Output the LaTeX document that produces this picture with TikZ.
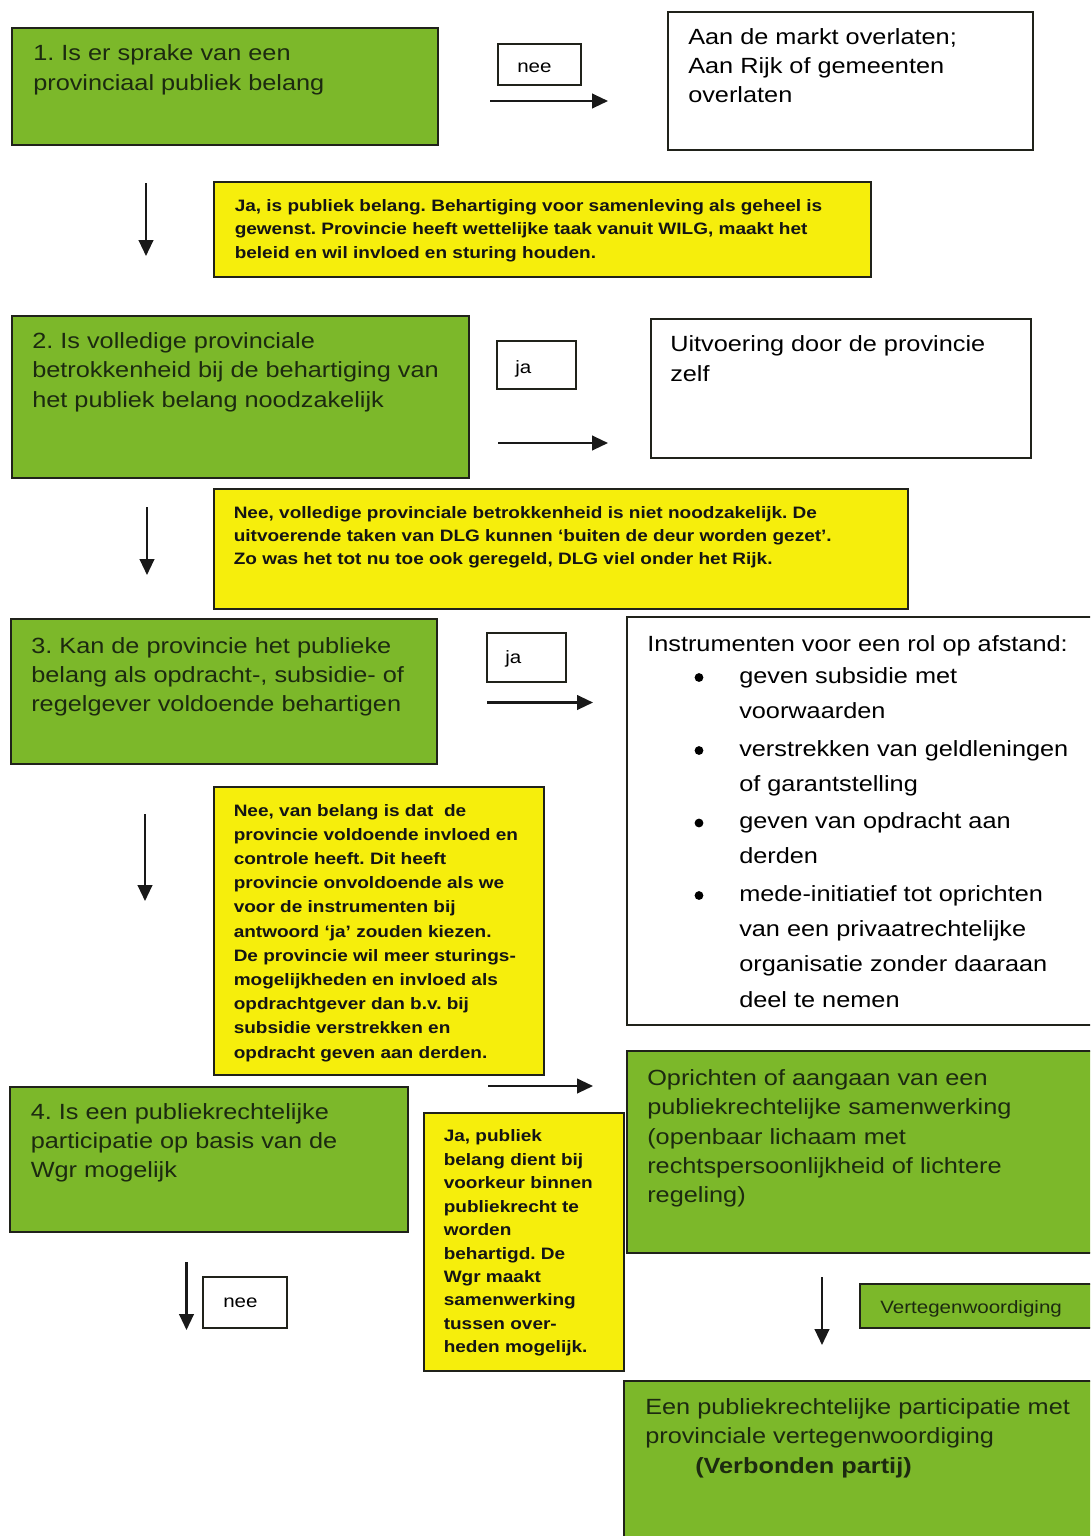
\documentclass[tikz,border=0pt]{standalone}
\usepackage{fontspec}
\setmainfont{Liberation Sans}[FakeStretch=1.15]
\usetikzlibrary{arrows.meta,fit}
\definecolor{boxgreen}{RGB}{124,184,42}
\definecolor{boxyellow}{RGB}{246,238,12}
\definecolor{greentext}{RGB}{28,42,16}
\definecolor{edge}{RGB}{32,34,26}
\frenchspacing
\newcommand\mlines[2]{\vtop{\baselineskip=#1\relax\lineskiplimit=-\maxdimen\halign{##\hfil\cr#2\crcr}}}
\tikzset{
  gbox/.style={draw=edge, line width=1.8pt, fill=boxgreen, inner sep=0pt},
  ybox/.style={draw=edge, line width=1.6pt, fill=boxyellow, inner sep=0pt},
  wbox/.style={draw=edge, line width=1.6pt, fill=white, inner sep=0pt},
  gtext/.style={anchor=base west, inner sep=0pt, text=greentext, font=\fontsize{16.5pt}{22pt}\selectfont},
  ytext/.style={anchor=base west, inner sep=0pt, text=black!92, font=\fontsize{12.4pt}{17.6pt}\selectfont\bfseries},
  wtext/.style={anchor=base west, inner sep=0pt, text=black, font=\fontsize{16.5pt}{22pt}\selectfont},
  lbl/.style={anchor=base west, inner sep=0pt, text=black, font=\fontsize{13.4pt}{16pt}\selectfont},
  arr/.style={line width=1.6pt, draw=black!90, -{Triangle[length=12pt,width=11pt]}},
}
\begin{document}
\begin{tikzpicture}[x=0.75pt,y=-0.75pt]
\useasboundingbox (0,0) rectangle (1090,1536);
\fill[white] (0,0) rectangle (1090,1536);
\clip (0,0) rectangle (1090,1536);

% ---------- row 1
\node[gbox, fit={(12,28) (438,145)}] (b1) {};
\node[gtext] (t1) at (33,60.7) {\mlines{22pt}{1. Is er sprake van een\cr provinciaal publiek belang}};
\node[wbox, fit={(498,44) (581,85)}] (l1) {};
\node[lbl] (tl1) at (517,72.5) {nee};
\coordinate (a1s) at (490,101); \coordinate (a1e) at (608,101);
\draw[arr] (a1s) -- (a1e);
\node[wbox, fit={(668,12) (1033,150)}] (w1) {};
\node[wtext] (tw1) at (688,44.3) {\mlines{22pt}{Aan de markt overlaten;\cr Aan Rijk of gemeenten\cr overlaten}};

\coordinate (d1s) at (146,183); \coordinate (d1e) at (146,256);
\draw[arr] (d1s) -- (d1e);
\node[ybox, fit={(214,182) (871,277)}] (y1) {};
\node[ytext] (ty1) at (234.5,211) {\mlines{17.7pt}{Ja, is publiek belang. Behartiging voor samenleving als geheel is\cr gewenst. Provincie heeft wettelijke taak vanuit WILG, maakt het\cr beleid en wil invloed en sturing houden.}};

% ---------- row 2
\node[gbox, fit={(12,316) (469,478)}] (b2) {};
\node[gtext] (t2) at (32,348.5) {\mlines{22pt}{2. Is volledige provinciale\cr betrokkenheid bij de behartiging van\cr het publiek belang noodzakelijk}};
\node[wbox, fit={(497,341) (576,389)}] (l2) {};
\node[lbl] (tl2) at (515,373) {ja};
\coordinate (a2s) at (498,443); \coordinate (a2e) at (608,443);
\draw[arr] (a2s) -- (a2e);
\node[wbox, fit={(651,319) (1031,458)}] (w2) {};
\node[wtext] (tw2) at (670,351.7) {\mlines{22pt}{Uitvoering door de provincie\cr zelf}};

\coordinate (d2s) at (147,507); \coordinate (d2e) at (147,575);
\draw[arr] (d2s) -- (d2e);
\node[ybox, fit={(214,489) (908,609)}] (y2) {};
\node[ytext] (ty2) at (233.5,518) {\mlines{17.5pt}{Nee, volledige provinciale betrokkenheid is niet noodzakelijk. De\cr uitvoerende taken van DLG kunnen ‘buiten de deur worden gezet’.\cr Zo was het tot nu toe ook geregeld, DLG viel onder het Rijk.}};

% ---------- row 3
\node[gbox, fit={(11,619) (437,764)}] (b3) {};
\node[gtext] (t3) at (31,653) {\mlines{22pt}{3. Kan de provincie het publieke\cr belang als opdracht-, subsidie- of\cr regelgever voldoende behartigen}};
\node[wbox, fit={(487,633) (566,682)}] (l3) {};
\node[lbl] (tl3) at (505,663.5) {ja};
\coordinate (a3s) at (487,702.5); \coordinate (a3e) at (593,702.5);
\draw[arr] (a3s) -- (a3e);
\node[wbox, fit={(627,617) (1100,1025)}] (w3) {};
\node[wtext] (tw3) at (647,651.7) {Instrumenten voor een rol op afstand:};
\fill[black] (699,677.5) circle[radius=3.3pt];
\fill[black] (699,750.5) circle[radius=3.3pt];
\fill[black] (699,823) circle[radius=3.3pt];
\fill[black] (699,895.5) circle[radius=3.3pt];
\node[wtext] (tw3a) at (739,683) {\mlines{26.5pt}{geven subsidie met\cr voorwaarden}};
\node[wtext] (tw3b) at (739,756) {\mlines{26.5pt}{verstrekken van geldleningen\cr of garantstelling}};
\node[wtext] (tw3c) at (739,828.5) {\mlines{26.5pt}{geven van opdracht aan\cr derden}};
\node[wtext] (tw3d) at (739,901) {\mlines{26.5pt}{mede-initiatief tot oprichten\cr van een privaatrechtelijke\cr organisatie zonder daaraan\cr deel te nemen}};

\coordinate (d3s) at (145,814); \coordinate (d3e) at (145,901);
\draw[arr] (d3s) -- (d3e);
\node[ybox, fit={(214,787) (544,1075)}] (y3) {};
\node[ytext] (ty3) at (233.5,816) {\mlines{18.15pt}{Nee, van belang is dat\ \ de\cr provincie voldoende invloed en\cr controle heeft. Dit heeft\cr provincie onvoldoende als we\cr voor de instrumenten bij\cr antwoord ‘ja’ zouden kiezen.\cr De provincie wil meer sturings-\cr mogelijkheden en invloed als\cr opdrachtgever dan b.v. bij\cr subsidie verstrekken en\cr opdracht geven aan derden.}};

% ---------- row 4
\coordinate (a4s) at (488,1086); \coordinate (a4e) at (593,1086);
\draw[arr] (a4s) -- (a4e);
\node[gbox, fit={(10,1087) (408,1232)}] (b4) {};
\node[gtext] (t4) at (30.5,1119) {\mlines{21.9pt}{4. Is een publiekrechtelijke\cr participatie op basis van de\cr Wgr mogelijk}};
\node[gbox, fit={(627,1051) (1100,1253)}] (g5) {};
\node[gtext] (t5) at (647,1085.5) {\mlines{22pt}{Oprichten of aangaan van een\cr publiekrechtelijke samenwerking\cr (openbaar lichaam met\cr rechtspersoonlijkheid of lichtere\cr regeling)}};
\node[ybox, fit={(424,1113) (624,1371)}] (y4) {};
\node[ytext] (ty4) at (443.5,1141.7) {\mlines{17.6pt}{Ja, publiek\cr belang dient bij\cr voorkeur binnen\cr publiekrecht te\cr worden\cr behartigd. De\cr Wgr maakt\cr samenwerking\cr tussen over-\cr heden mogelijk.}};

\coordinate (d4s) at (186.5,1262); \coordinate (d4e) at (186.5,1330);
\draw[arr] (d4s) -- (d4e);
\node[wbox, fit={(203,1277) (287,1328)}] (l4) {};
\node[lbl] (tl4) at (223,1307.7) {nee};

\coordinate (d5s) at (822,1277); \coordinate (d5e) at (822,1345);
\draw[arr] (d5s) -- (d5e);
\node[gbox, fit={(860,1284) (1100,1328)}] (v1) {};
\node[lbl, text=greentext] (tv1) at (880,1313) {Vertegenwoordiging};

\node[gbox, fit={(624,1381) (1100,1545)}] (g6) {};
\node[gtext] (t6) at (645,1414) {\mlines{22.3pt}{Een publiekrechtelijke participatie met\cr provinciale vertegenwoordiging\cr \hspace*{37.5pt}\textbf{(Verbonden partij)}}};
\end{tikzpicture}
\end{document}
